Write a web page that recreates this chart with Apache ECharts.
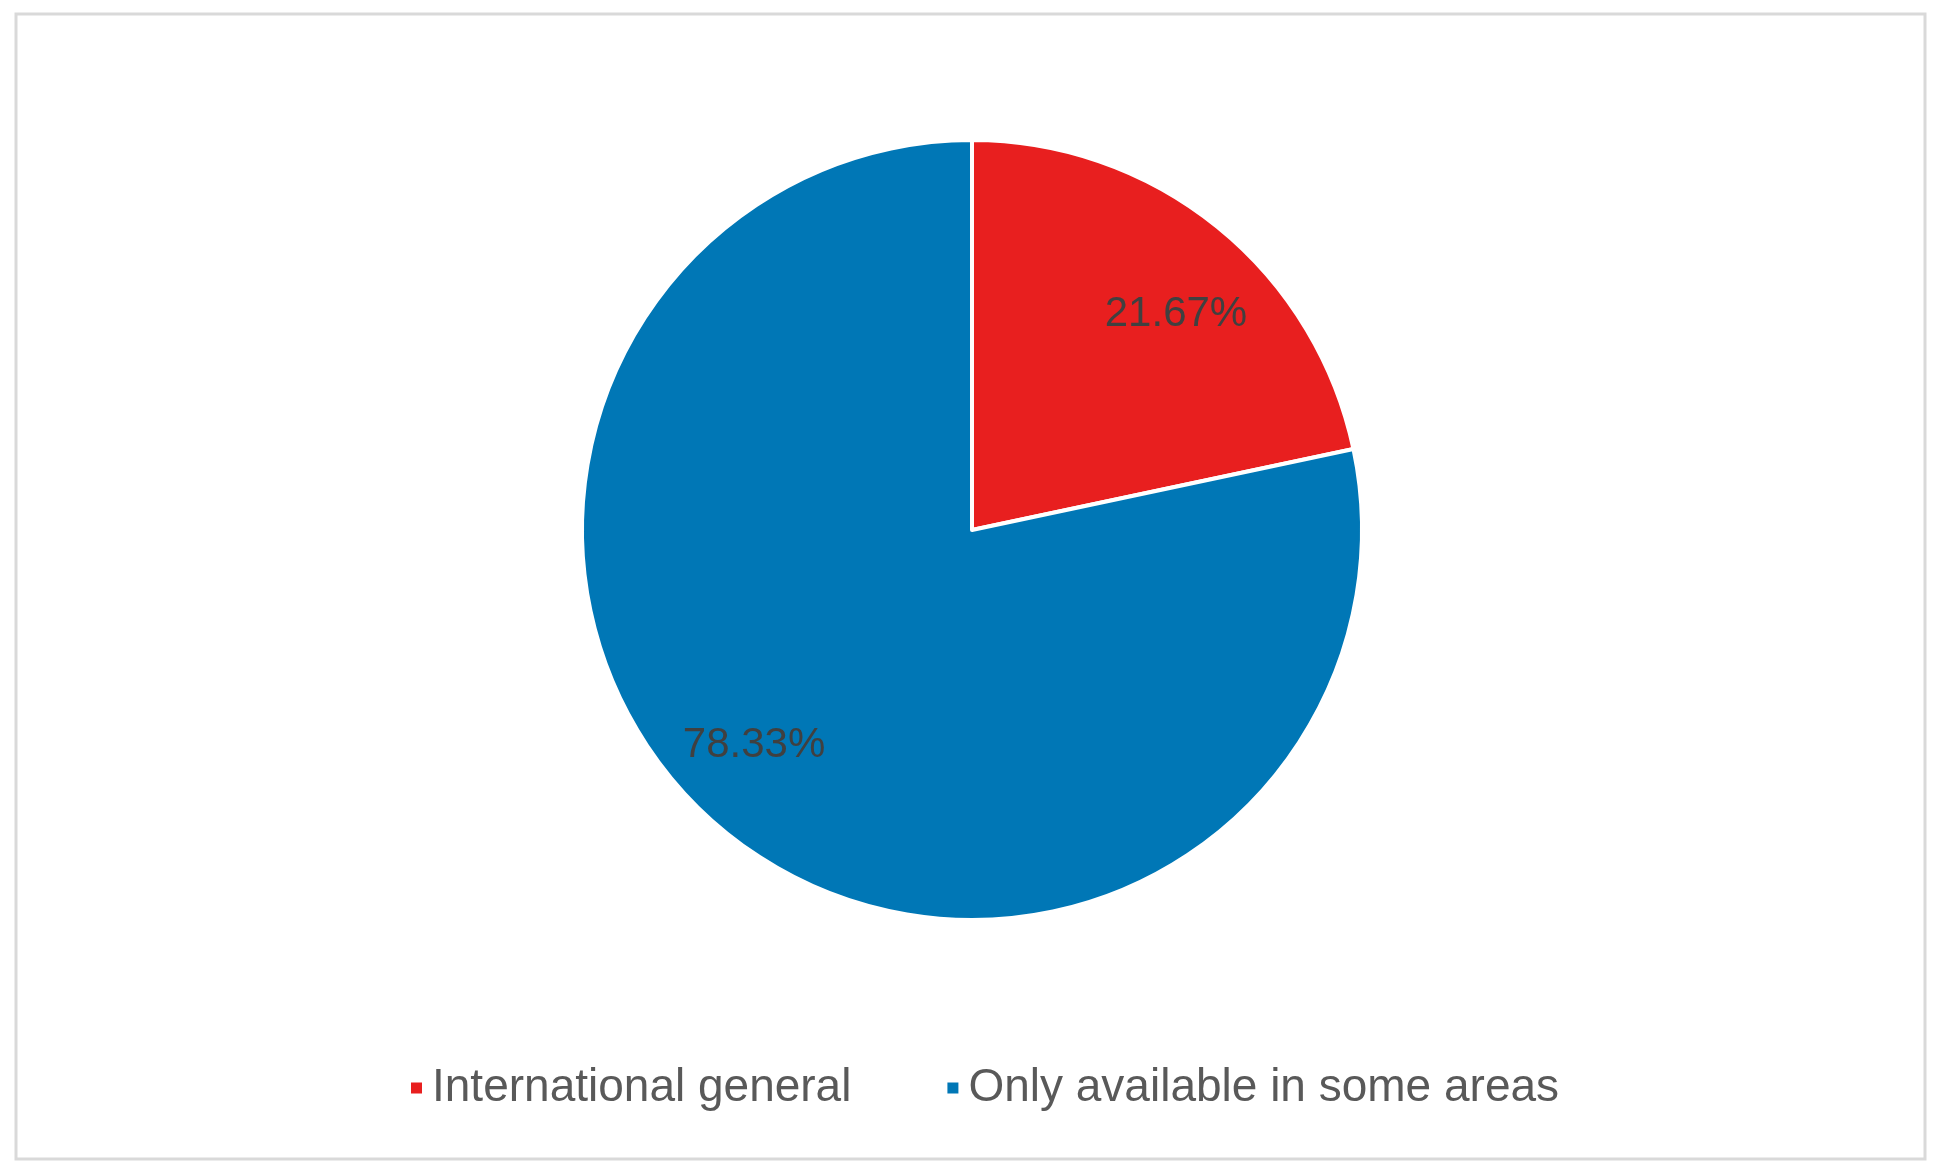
<!DOCTYPE html>
<html>
<head>
<meta charset="utf-8">
<script src="https://cdn.jsdelivr.net/npm/echarts@6/dist/echarts.min.js"></script>
<style>
html,body{margin:0;padding:0;background:#fff;}
#chart{width:1941px;height:1175px;}
</style>
</head>
<body>
<div id="chart"></div>
<script>
const categories = ['International general', 'Only available in some areas'];
const values = [21.67, 78.33];
const colors = ['#E81F1F', '#0077B6'];
const labelOffsets = [[18, 14], [-32, -14]];

const chart = echarts.init(document.getElementById('chart'));
const pieData = categories.map((c, i) => ({ name: c, value: values[i], itemStyle: { color: colors[i] } }));

chart.setOption({
  backgroundColor: '#ffffff',
  animation: false,
  graphic: [{
    type: 'rect',
    shape: { x: 16, y: 14, width: 1909, height: 1145 },
    style: { fill: 'none', stroke: '#d9d9d9', lineWidth: 3 },
    silent: true
  }],
  legend: {
    data: categories,
    bottom: 59,
    left: 404,
    itemWidth: 13,
    itemHeight: 13,
    itemGap: 94,
    icon: 'rect',
    textStyle: { fontFamily: 'Liberation Sans', fontSize: 46, color: '#595959', padding: [0, 0, 0, 4] }
  },
  series: [
    {
      type: 'pie',
      center: [972, 530],
      radius: [0, 390],
      startAngle: 90,
      clockwise: true,
      itemStyle: { borderColor: '#ffffff', borderWidth: 4 },
      label: { show: false },
      labelLine: { show: false },
      emphasis: { disabled: true },
      data: pieData
    },
    {
      type: 'pie',
      center: [972, 530],
      radius: [195, 390],
      startAngle: 90,
      clockwise: true,
      silent: true,
      itemStyle: { color: 'rgba(0,0,0,0)', borderWidth: 0 },
      label: {
        show: true,
        position: 'inside',
        formatter: p => p.value.toFixed(2) + '%',
        fontFamily: 'Liberation Sans',
        fontSize: 42,
        color: '#404040'
      },
      labelLine: { show: false },
      emphasis: { disabled: true },
      data: categories.map((c, i) => ({ name: c, value: values[i], label: { offset: labelOffsets[i] } }))
    }
  ]
});
</script>
</body>
</html>
